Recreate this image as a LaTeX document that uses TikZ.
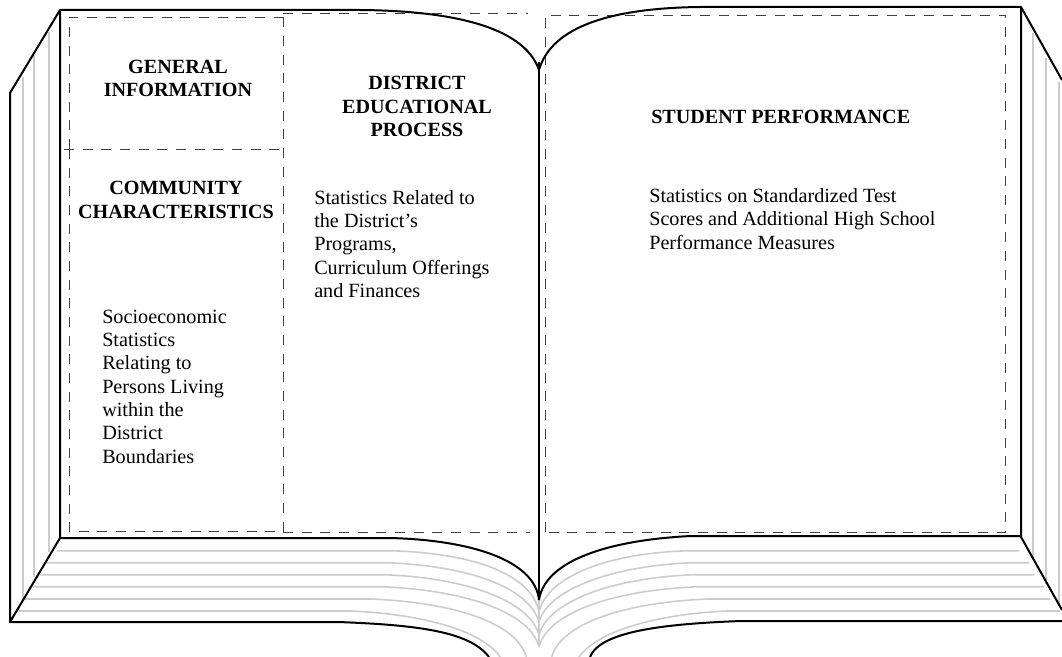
\documentclass[tikz,border=0pt]{standalone}
\usepackage{fontspec}
\setmainfont{Liberation Serif}
\tikzset{
  bookline/.style={line width=1.5pt,black,line join=round},
  pageline/.style={line width=1.2pt,black!20},
  zone/.style={line width=0.7pt,black!75,dash pattern=on 7.5pt off 6.5pt},
  heading/.style={font=\fontsize{15.1}{17.5}\selectfont\bfseries,align=center,anchor=base,inner sep=0pt},
  bodytext/.style={font=\fontsize{15.15}{17.5}\selectfont,align=left,anchor=base west,inner sep=0pt}
}
\begin{document}
\begin{tikzpicture}[x=0.75pt,y=-0.75pt]
\useasboundingbox (0,0) rectangle (1062,656);
\clip (0,0) rectangle (1062,656);
% spine edges
\draw[pageline] (23,77) -- (23,600);
\draw[pageline] (34,55) -- (34,577);
\draw[pageline] (49,32) -- (49,552);
\draw[pageline] (1033,33) -- (1033,560);
\draw[pageline] (1046,58) -- (1046,584);
\draw[pageline] (1059,82) -- (1059,606);
% page stack, left
\draw[pageline] (57,550.7) -- (390,550.7) .. controls (475,553) and (532,575) .. (539,612);
\draw[pageline] (46,562.7) -- (386,562.7) .. controls (475,566) and (530,590) .. (539,622);
\draw[pageline] (40,574.7) -- (384,574.7) .. controls (470,578) and (530,602) .. (539,635);
\draw[pageline] (33,586.7) -- (381,586.7) .. controls (465,590) and (530,612) .. (539,647);
\draw[pageline] (24,599) -- (370,599) .. controls (450,602) and (520,622) .. (527,660);
\draw[pageline] (16.5,611) -- (351,611) .. controls (420,614) and (485,630) .. (502,660);
% page stack, right
\draw[pageline] (1019,550.7) -- (689,550.7) .. controls (610,553) and (548,575) .. (539,612);
\draw[pageline] (1029,562.7) -- (692,562.7) .. controls (610,566) and (548,590) .. (539,622);
\draw[pageline] (1034,574.7) -- (694,574.7) .. controls (610,578) and (548,602) .. (539,635);
\draw[pageline] (1044,586.7) -- (698,586.7) .. controls (615,590) and (548,612) .. (539,647);
\draw[pageline] (1050,599) -- (708,599) .. controls (630,602) and (558,622) .. (551,660);
\draw[pageline] (1060,611) -- (727,611) .. controls (660,614) and (595,630) .. (577,660);
\draw[pageline] (539,600) -- (539,647);
% zones
\draw[zone] (69,149) -- (69,17.5) -- (283,17.5);
\draw[zone] (69,149) -- (69,531.5) -- (283,531.5);
\draw[zone] (283,17.5) -- (283,531.5);
\draw[zone] (64,149) -- (283,149);
\draw[zone] (283,13.5) -- (528,13.5);
\draw[zone] (283,532) -- (530,532);
\draw[zone] (545,532) -- (545,15) -- (1005.5,15) -- (1005.5,532) -- cycle;
% book outline
\draw[bookline] (10,622) -- (10,93) -- (60,10) -- (60,538) -- cycle;
\draw[bookline] (60,10) -- (360,10) .. controls (475,11) and (527,35) .. (539,70);
\draw[bookline] (1062,80) -- (1021,7) -- (1021,537) -- (1062,610);
\draw[bookline] (1021,7) -- (700,7) .. controls (615,8) and (552,25) .. (539,70);
\draw[bookline] (539,62) -- (539,600);
\draw[bookline] (60,538) -- (390,538) .. controls (470,540) and (535,560) .. (539,600);
\draw[bookline] (1021,536) -- (691,536) .. controls (610,540) and (545,560) .. (539,600);
\draw[bookline] (10,622) -- (338,622) .. controls (420,625) and (470,632) .. (489,657);
\draw[bookline] (1062,621) -- (741,621) .. controls (660,624) and (600,632) .. (590,657);
% text
\node[heading] (general) at (178,97) {GENERAL\\INFORMATION};
\node[heading] (community) at (176,218) {COMMUNITY\hspace{9pt}\\CHARACTERISTICS};
\node[heading] (district) at (417,136.5) {DISTRICT\\EDUCATIONAL\\PROCESS};
\node[heading,anchor=base west] (student) at (651,124) {STUDENT PERFORMANCE};
\node[bodytext] (socio) at (102,463) {Socioeconomic\\Statistics\\Relating to\\Persons Living\\within the\\District\\Boundaries};
\node[bodytext] (process) at (314,297.5) {Statistics Related to\\the District’s\\Programs,\\Curriculum Offerings\\and Finances};
\node[bodytext] (perf) at (649,249) {Statistics on Standardized Test\\Scores and Additional High School\\Performance Measures};
\end{tikzpicture}
\end{document}
